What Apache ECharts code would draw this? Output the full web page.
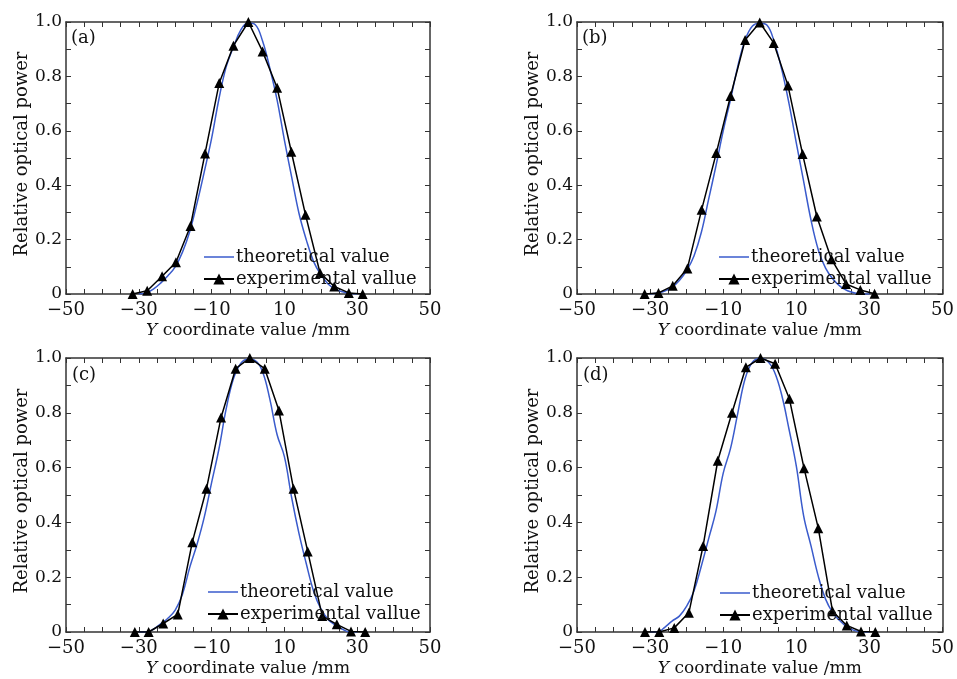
<!DOCTYPE html>
<html>
<head>
<meta charset="utf-8">
<script src="https://cdn.jsdelivr.net/npm/echarts@6/dist/echarts.min.js"></script>
<style>
  html, body { margin: 0; padding: 0; background: #fff; }
  #chart { width: 957px; height: 679px; }
</style>
</head>
<body>
<div id="chart"></div>
<script>
// theoretical curve, sampled every 2 mm
var theoX = [-30, -28, -26, -24, -22, -20, -18, -16, -14, -12, -10, -8, -6, -4, -2, 0,
  2, 4, 6, 8, 10, 12, 14, 16, 18, 20, 22, 24, 26, 28, 30];
var theoA = [0, 0.004, 0.018, 0.04, 0.067, 0.10, 0.154, 0.23, 0.334, 0.45, 0.572, 0.716, 0.835, 0.908, 0.97, 0.996,
  0.99, 0.93, 0.83, 0.713, 0.566, 0.43, 0.297, 0.2, 0.12, 0.071, 0.037, 0.018, 0.008, 0.002, 0];
var theoB = [0, 0.004, 0.011, 0.025, 0.05, 0.086, 0.14, 0.226, 0.348, 0.47, 0.6, 0.715, 0.838, 0.934, 0.985, 0.995,
  0.988, 0.925, 0.826, 0.70, 0.555, 0.414, 0.273, 0.163, 0.095, 0.055, 0.028, 0.012, 0.004, 0, 0];
var theoC = [0, 0, 0.01, 0.03, 0.05, 0.08, 0.138, 0.236, 0.32, 0.42, 0.545, 0.667, 0.814, 0.924, 0.98, 0.995,
  0.99, 0.95, 0.85, 0.72, 0.64, 0.49, 0.36, 0.25, 0.15, 0.085, 0.046, 0.025, 0.01, 0, 0];
var theoD = [0, 0, 0.017, 0.04, 0.058, 0.094, 0.15, 0.24, 0.34, 0.44, 0.58, 0.67, 0.80, 0.925, 0.985, 0.998,
  0.99, 0.95, 0.865, 0.74, 0.605, 0.424, 0.315, 0.204, 0.12, 0.07, 0.04, 0.017, 0.005, 0, 0];

// measured points
var expXA = [-31.7, -27.7, -23.6, -19.8, -15.8, -11.8, -7.9, -4.0, 0.1, 4.0, 8.0, 11.9, 15.8, 19.8, 23.7, 27.7, 31.5];
var expA = [0, 0.012, 0.065, 0.117, 0.25, 0.517, 0.776, 0.913, 1.0, 0.892, 0.758, 0.523, 0.291, 0.077, 0.028, 0.004, 0];
var expXB = [-31.5, -27.7, -23.8, -19.8, -15.9, -11.9, -8.0, -4.0, 0, 3.8, 7.7, 11.7, 15.6, 19.6, 23.6, 27.5, 31.4];
var expB = [0, 0.004, 0.03, 0.094, 0.31, 0.518, 0.728, 0.934, 0.998, 0.923, 0.767, 0.515, 0.285, 0.128, 0.037, 0.015, 0.001];
var expXC = [-31.1, -27.3, -23.3, -19.3, -15.3, -11.4, -7.4, -3.4, 0.5, 4.6, 8.5, 12.5, 16.4, 20.4, 24.4, 28.3, 32.2];
var expC = [0, 0, 0.031, 0.064, 0.328, 0.523, 0.783, 0.961, 1.0, 0.961, 0.808, 0.523, 0.294, 0.058, 0.028, 0.002, 0];
var expXD = [-31.4, -27.5, -23.4, -19.4, -15.5, -11.5, -7.6, -3.8, 0.2, 4.2, 8.1, 12.1, 16.0, 19.9, 23.8, 27.7, 31.6];
var expD = [0, 0, 0.015, 0.07, 0.314, 0.625, 0.8, 0.966, 1.0, 0.979, 0.851, 0.598, 0.379, 0.076, 0.024, 0.002, 0];

var panelLabels = ['(a)', '(b)', '(c)', '(d)'];
var theoName = 'theoretical value';
var expName = 'experimental vallue';

var font = 'DejaVu Serif';
var frameColor = '#333';
var blue = '#3a5bcc';

var grids = [
  { left: 66, top: 22, width: 364, height: 272 },
  { left: 577, top: 22, width: 369, height: 272 },
  { left: 66, top: 358, width: 364, height: 274 },
  { left: 577, top: 358, width: 369, height: 274 }
];
var legendPos = [[203, 248], [718, 248], [207, 583], [719, 584]];
var labelPos = [[71, 29], [582, 29], [72, 366], [583, 366]];

function pairs(xs, ys) {
  return xs.map(function (x, i) { return [x, ys[i]]; });
}

var theoSets = [theoA, theoB, theoC, theoD];
var expSets = [[expXA, expA], [expXB, expB], [expXC, expC], [expXD, expD]];

var xAxes = [], yAxes = [], series = [], legends = [], titles = [];
grids.forEach(function (g, i) {
  var tickCommon = { show: true, inside: true, length: 5, lineStyle: { color: frameColor, width: 1 } };
  var minorX = { show: true, splitNumber: 4, length: 5, lineStyle: { color: frameColor, width: 1 } };
  var minorY = { show: true, splitNumber: 2, length: 5, lineStyle: { color: frameColor, width: 1 } };
  var frameLine = { show: true, onZero: false, lineStyle: { color: frameColor, width: 1.5 } };
  xAxes.push({
    type: 'value', gridIndex: i, min: -50, max: 50, interval: 20,
    axisLine: frameLine, axisTick: tickCommon, minorTick: minorX, splitLine: { show: false },
    axisLabel: {
      margin: 7, color: '#111', fontFamily: font, fontSize: 18,
      formatter: function (v) { return String(v).replace('-', '\u2212'); }
    },
    name: '{it|Y} coordinate value /mm', nameLocation: 'middle', nameGap: 28,
    nameTextStyle: {
      color: '#111', fontFamily: font, fontSize: 17,
      rich: { it: { fontStyle: 'italic', fontFamily: font, fontSize: 17, color: '#111' } }
    }
  });
  xAxes.push({
    type: 'value', gridIndex: i, min: -50, max: 50, interval: 20, position: 'top',
    axisLine: frameLine, axisTick: tickCommon, minorTick: minorX, splitLine: { show: false },
    axisLabel: { show: false }
  });
  yAxes.push({
    type: 'value', gridIndex: i, min: 0, max: 1, interval: 0.2,
    axisLine: frameLine, axisTick: tickCommon, minorTick: minorY, splitLine: { show: false },
    axisLabel: {
      margin: 4, color: '#111', fontFamily: font, fontSize: 17,
      formatter: function (v) { return v === 0 ? '0' : v.toFixed(1); }
    },
    name: 'Relative optical power', nameLocation: 'middle', nameGap: 34,
    nameTextStyle: { color: '#111', fontFamily: font, fontSize: 18, padding: [0, 0, 0, 8] }
  });
  yAxes.push({
    type: 'value', gridIndex: i, min: 0, max: 1, interval: 0.2, position: 'right',
    axisLine: frameLine, axisTick: tickCommon, minorTick: minorY, splitLine: { show: false },
    axisLabel: { show: false }
  });

  series.push({
    name: theoName, type: 'line', xAxisIndex: i * 2, yAxisIndex: i * 2,
    data: pairs(theoX, theoSets[i]), smooth: 0.4, symbol: 'none',
    lineStyle: { color: blue, width: 1.5 }, itemStyle: { color: blue }
  });
  series.push({
    name: expName, type: 'line', xAxisIndex: i * 2, yAxisIndex: i * 2,
    data: pairs(expSets[i][0], expSets[i][1]), symbol: 'triangle', symbolSize: 10,
    lineStyle: { color: '#000', width: 1.5 }, itemStyle: { color: '#000' }
  });

  legends.push({
    orient: 'vertical', left: legendPos[i][0], top: legendPos[i][1],
    itemWidth: 30, itemHeight: 14, itemGap: 4, padding: 0,
    data: [{ name: theoName, icon: 'path://M0,0h30v1.5h-30z' }, { name: expName }],
    textStyle: { color: '#111', fontFamily: font, fontSize: 18, padding: [0, 0, 0, -3] }
  });
  titles.push({
    text: panelLabels[i], left: labelPos[i][0], top: labelPos[i][1], padding: 0,
    textStyle: { color: '#111', fontFamily: font, fontSize: 18, fontWeight: 'normal' }
  });
});

var chart = echarts.init(document.getElementById('chart'));
chart.setOption({
  backgroundColor: '#fff',
  animation: false,
  title: titles,
  legend: legends,
  grid: grids,
  xAxis: xAxes,
  yAxis: yAxes,
  series: series
});
</script>
</body>
</html>
